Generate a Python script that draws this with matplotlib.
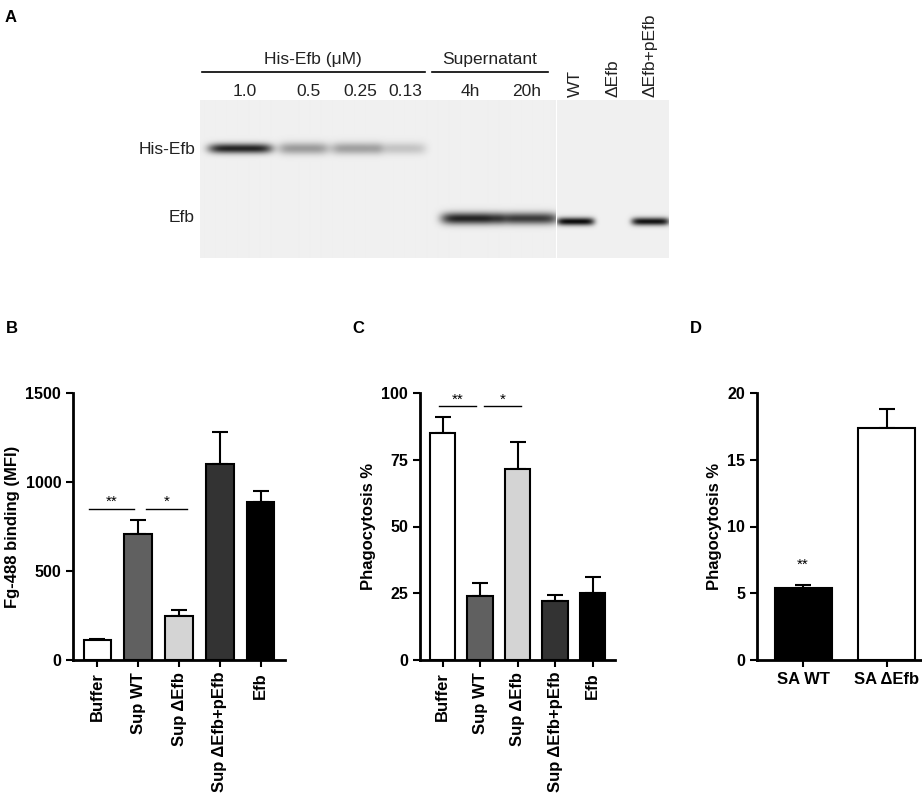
import numpy as np
import matplotlib
matplotlib.use("Agg")
from matplotlib import pyplot as plt

plt.rcParams['font.family'] = ['Liberation Sans', 'DejaVu Sans']

# panel A blot: lane labels and band intensities (0..1)
conc_labels = ["1.0", "0.5", "0.25", "0.13"]
sup_labels = ["4h", "20h"]
strain_labels = ["WT", "ΔEfb", "ΔEfb+pEfb"]
his_band = [0.85, 0.35, 0.33, 0.18]
sup_band = [0.85, 0.75]
strain_band = [0.95, 0.0, 0.92]

# panel B
b_cats = ["Buffer", "Sup WT", "Sup ΔEfb", "Sup ΔEfb+pEfb", "Efb"]
b_vals = [115, 710, 245, 1100, 890]
b_errs = [5, 75, 35, 180, 60]

# panel C
c_cats = ["Buffer", "Sup WT", "Sup ΔEfb", "Sup ΔEfb+pEfb", "Efb"]
c_vals = [85, 24, 71.5, 22, 25]
c_errs = [6, 5, 10, 2.5, 6]

# panel D
d_cats = ["SA WT", "SA ΔEfb"]
d_vals = [5.4, 17.4]
d_errs = [0.2, 1.4]

bar_colors = ["white", "#606060", "#d4d4d4", "#333333", "black"]

W, H = 922, 800
fig = plt.figure(figsize=(W / 100, H / 100), dpi=100)

# ---- panel A ----
axA = fig.add_axes([0, 0, 1, 1])
axA.set_xlim(0, W)
axA.set_ylim(H, 0)
axA.axis("off")

def gel(x0, x1, y0, y1, bands):
    xs = np.arange(x0, x1)
    ys = np.arange(y0, y1)
    X, Y = np.meshgrid(xs, ys)
    img = np.full(X.shape, 0.94)
    dark = np.zeros(X.shape)
    for cx, cy, w, h, a in bands:
        dark += a * np.exp(-((X - cx) / w) ** 6) * np.exp(-((Y - cy) / h) ** 2)
    img = img * (1 - np.clip(dark, 0, 1))
    axA.imshow(img, cmap="gray", vmin=0, vmax=1, extent=(x0, x1, y1, y0),
               aspect="auto", interpolation="bilinear")

his_x = [240, 303, 355, 400]
sup_x = [470, 527]
strain_x = [575, 613, 650]
bands = [(x, 148, 32 if i == 0 else 25, 5 if i == 0 else 6, a) for i, (x, a) in enumerate(zip(his_x, his_band))]
bands += [(x, 218, 30, 6, a) for x, a in zip(sup_x, sup_band)]
gel(200, 555, 100, 258, bands)
gel(557, 669, 100, 258, [(x, 221, 19, 4, a) for x, a in zip(strain_x, strain_band)])

tA = dict(fontsize=12.5, color="#222222")
axA.text(5, 22, "A", fontsize=12, fontweight="bold")
axA.text(195, 150, "His-Efb", ha="right", va="center", **tA)
axA.text(195, 217, "Efb", ha="right", va="center", **tA)
axA.plot([202, 425], [72, 72], color="black", lw=1.2)
axA.plot([432, 548], [72, 72], color="black", lw=1.2)
axA.text(313, 67, "His-Efb (μM)", ha="center", va="bottom", **tA)
axA.text(490, 67, "Supernatant", ha="center", va="bottom", **tA)
for x, lab in zip(his_x, conc_labels):
    axA.text(x + 5, 92, lab, ha="center", va="center", **tA)
for x, lab in zip(sup_x, sup_labels):
    axA.text(x, 92, lab, ha="center", va="center", **tA)
for x, lab in zip(strain_x, strain_labels):
    axA.text(x, 97, lab, ha="center", va="bottom", rotation=90, **tA)

def bar_panel(rect, cats, vals, errs, colors, ylim, yticks, ylabel, letter, rot=90):
    ax = fig.add_axes(rect)
    x = np.arange(len(vals))
    ax.bar(x, vals, width=0.68, color=colors, edgecolor="black", linewidth=1.5, zorder=2)
    ax.errorbar(x, vals, yerr=[np.zeros(len(errs)), errs], fmt="none", ecolor="black",
                elinewidth=1.5, capsize=6, capthick=1.5, zorder=1)
    ax.set_ylim(*ylim)
    ax.set_yticks(yticks)
    ax.set_xlim(-0.6, len(vals) - 0.4)
    ax.set_xticks(x)
    ax.set_xticklabels(cats, rotation=rot, fontweight="bold", fontsize=12)
    for lab in ax.get_yticklabels():
        lab.set_fontweight("bold")
        lab.set_fontsize(11.5)
    ax.set_ylabel(ylabel, fontweight="bold", fontsize=12)
    for s in ["top", "right"]:
        ax.spines[s].set_visible(False)
    for s in ["left", "bottom"]:
        ax.spines[s].set_linewidth(2)
    ax.tick_params(width=1.5, length=5)
    fig.text(rect[0] - 0.073, rect[1] + rect[3] + 0.075, letter, fontsize=12, fontweight="bold")
    return ax

def sig(ax, x0, x1, y, s):
    ax.plot([x0, x1], [y, y], color="black", lw=1)
    ax.text((x0 + x1) / 2, y, s, ha="center", va="bottom", fontsize=11)

# B
axB = bar_panel([73 / W, 1 - 660 / H, 212 / W, 267 / H], b_cats, b_vals, b_errs, bar_colors,
                (0, 1500), [0, 500, 1000, 1500], "Fg-488 binding (MFI)", "B")
sig(axB, -0.2, 0.9, 850, "**")
sig(axB, 1.2, 2.2, 850, "*")

# C
axC = bar_panel([420 / W, 1 - 660 / H, 195 / W, 267 / H], c_cats, c_vals, c_errs, bar_colors,
                (0, 100), [0, 25, 50, 75, 100], "Phagocytosis %", "C")
sig(axC, -0.1, 0.9, 95, "**")
sig(axC, 1.1, 2.1, 95, "*")

# D
axD = bar_panel([757 / W, 1 - 660 / H, 165 / W, 267 / H], d_cats, d_vals, d_errs, ["black", "white"],
                (0, 20), [0, 5, 10, 15, 20], "Phagocytosis %", "D", rot=0)
axD.set_xlim(-0.55, 1.42)
axD.text(0, 6.6, "**", ha="center", va="bottom", fontsize=11)

fig.savefig("out.png", dpi=100)
